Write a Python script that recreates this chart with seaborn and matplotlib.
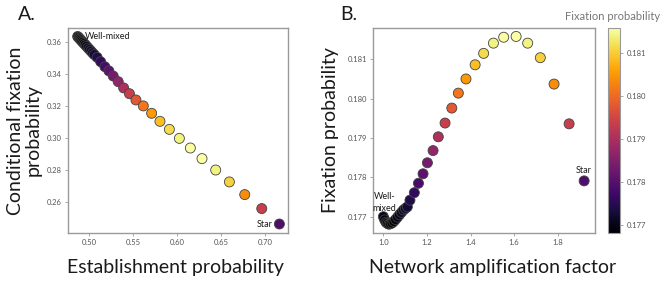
import numpy as np
import pandas as pd
import seaborn as sns
import matplotlib.pyplot as plt
from matplotlib.colors import Normalize
from matplotlib.cm import ScalarMappable

# Panel A: establishment vs conditional fixation probability
establishment = [0.4868, 0.4876, 0.4885, 0.4895, 0.4905, 0.4916, 0.4928, 0.4941,
                 0.4955, 0.4970, 0.4986, 0.5003, 0.5020, 0.5038, 0.5057, 0.5090,
                 0.5130, 0.5178, 0.5224, 0.5273, 0.5330, 0.5392, 0.5458, 0.5532,
                 0.5616, 0.5711, 0.5806, 0.5913, 0.6027, 0.6152, 0.6285, 0.6441,
                 0.6597, 0.6772, 0.6966, 0.7167]
cond_fixation = [0.3632, 0.3627, 0.3622, 0.3616, 0.3610, 0.3603, 0.3596, 0.3588,
                 0.3580, 0.3571, 0.3561, 0.3551, 0.3541, 0.3530, 0.3519, 0.3502,
                 0.3475, 0.3444, 0.3418, 0.3386, 0.3351, 0.3312, 0.3276, 0.3237,
                 0.3200, 0.3154, 0.3104, 0.3054, 0.2998, 0.2938, 0.2872, 0.2801,
                 0.2727, 0.2648, 0.2561, 0.2465]

# Panel B: amplification factor vs fixation probability
amplification = [1.000, 1.006, 1.012, 1.018, 1.025, 1.032, 1.040, 1.048,
                 1.056, 1.065, 1.074, 1.083, 1.092, 1.101, 1.110, 1.122,
                 1.142, 1.161, 1.182, 1.202, 1.228, 1.252, 1.283, 1.314,
                 1.344, 1.379, 1.421, 1.460, 1.505, 1.552, 1.609, 1.662,
                 1.720, 1.783, 1.852, 1.921]
fixation = [0.17700, 0.17692, 0.17686, 0.17683, 0.17681, 0.17682, 0.17684, 0.17688,
            0.17693, 0.17699, 0.17705, 0.17711, 0.17717, 0.17721, 0.17725, 0.17742,
            0.17761, 0.17785, 0.17809, 0.17837, 0.17868, 0.17903, 0.17938, 0.17976,
            0.18014, 0.18050, 0.18086, 0.18115, 0.18141, 0.18156, 0.18158, 0.18141,
            0.18104, 0.18037, 0.17936, 0.17791]

df = pd.DataFrame({"establishment": establishment, "cond_fixation": cond_fixation,
                   "amplification": amplification, "fixation": fixation})

sns.set_style("ticks")
plt.rcParams["font.family"] = ["Lato", "DejaVu Sans"]
plt.rcParams["text.color"] = "#1a1a1a"
plt.rcParams["axes.labelcolor"] = "#1a1a1a"

fig = plt.figure(figsize=(6.61, 2.81), dpi=100)
axA = fig.add_axes([0.1029, 0.1708, 0.3328, 0.7296])
axB = fig.add_axes([0.5648, 0.1708, 0.3354, 0.7296])
cax = fig.add_axes([0.9198, 0.1708, 0.0182, 0.7296])

norm = Normalize(min(fixation), max(fixation))
point_kw = dict(hue="fixation", palette="inferno", hue_norm=norm, legend=False,
                s=52, edgecolor="#444444", linewidth=0.6)

sns.scatterplot(data=df, x="establishment", y="cond_fixation", ax=axA, **point_kw)
sns.scatterplot(data=df, x="amplification", y="fixation", ax=axB, **point_kw)

axA.set_xlim(0.4758, 0.7265)
axA.set_ylim(0.2409, 0.3685)
axA.set_xticks([0.50, 0.55, 0.60, 0.65, 0.70])
axA.set_yticks([0.26, 0.28, 0.30, 0.32, 0.34, 0.36])
axA.xaxis.set_major_formatter("{x:.2f}")
axA.yaxis.set_major_formatter("{x:.2f}")

axB.set_xlim(0.954, 1.971)
axB.set_ylim(0.176586, 0.181795)
axB.set_xticks([1.0, 1.2, 1.4, 1.6, 1.8])
axB.set_yticks([0.177, 0.178, 0.179, 0.180, 0.181])
axB.xaxis.set_major_formatter("{x:.1f}")
axB.yaxis.set_major_formatter("{x:.3f}")

for ax in (axA, axB):
    for sp in ax.spines.values():
        sp.set_color("#9a9a9a")
        sp.set_linewidth(1.0)
    ax.tick_params(length=2.5, width=0.6, color="#9a9a9a", labelsize=5.5,
                   labelcolor="#555555", pad=2)

axA.set_xlabel("Establishment probability", fontsize=14)
axA.set_ylabel("Conditional fixation\nprobability", fontsize=14, linespacing=1.05)
axB.set_xlabel("Network amplification factor", fontsize=14)
axB.set_ylabel("Fixation probability", fontsize=14)
axA.xaxis.set_label_coords(0.49, -0.125)
axB.xaxis.set_label_coords(0.54, -0.125)
axA.yaxis.set_label_coords(-0.12, 0.5)
axB.yaxis.set_label_coords(-0.155, 0.5)

axA.annotate("Well-mixed", (establishment[0], cond_fixation[0]), xytext=(5, 0),
             textcoords="offset points", ha="left", va="center", fontsize=6.5)
axA.annotate("Star", (establishment[-1], cond_fixation[-1]), xytext=(-5, 0),
             textcoords="offset points", ha="right", va="center", fontsize=6.5)
axB.annotate("Well-\nmixed", (amplification[0], fixation[0]), xytext=(1, 3),
             textcoords="offset points", ha="center", va="bottom", fontsize=6.5,
             linespacing=1.3)
axB.annotate("Star", (amplification[-1], fixation[-1]), xytext=(0, 4),
             textcoords="offset points", ha="center", va="bottom", fontsize=6.5)

cb = fig.colorbar(ScalarMappable(norm=norm, cmap="inferno"), cax=cax)
cb.set_ticks([0.177, 0.178, 0.179, 0.180, 0.181])
cb.ax.yaxis.set_major_formatter("{x:.3f}")
cb.outline.set_edgecolor("#9a9a9a")
cb.ax.tick_params(length=2.5, width=0.6, color="#9a9a9a", labelsize=5.5,
                  labelcolor="#555555", pad=2)
fig.text(0.999, 1 - 17 / 281, "Fixation probability", ha="right", va="center",
         fontsize=8, color="#777777")

fig.text(18 / 661, 1 - 20 / 281, "A.", fontsize=14, va="baseline")
fig.text(340 / 661, 1 - 20 / 281, "B.", fontsize=14, va="baseline")

fig.savefig("out.png", dpi=100)
